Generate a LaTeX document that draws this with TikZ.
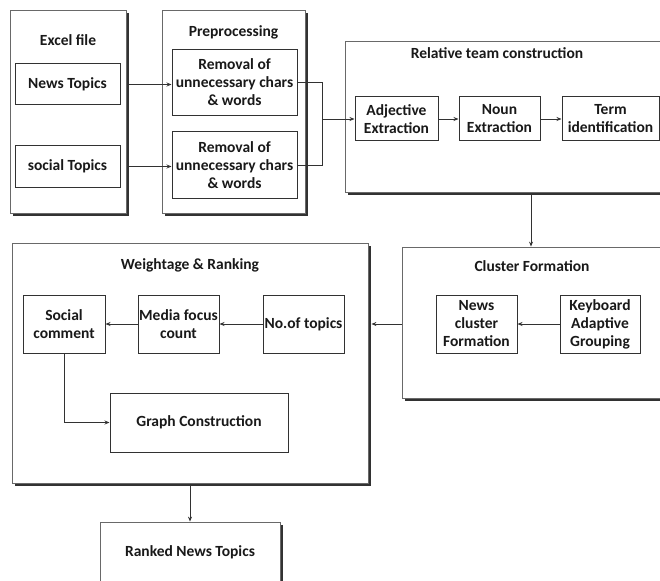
\documentclass[tikz,border=0pt]{standalone}
\usepackage{fontspec}
\setmainfont{Carlito}
\usepackage{xcolor}
\usepackage{tikz}
\usetikzlibrary{arrows.meta,positioning,shadows}
\definecolor{dfdark}{RGB}{50,50,50}
\definecolor{dfedge}{RGB}{105,105,105}
\tikzset{
  groupbox/.style={rectangle, draw=dfedge, line width=0.8pt, fill=white, drop shadow={shadow xshift=2.8pt, shadow yshift=-2.8pt, fill=dfdark, opacity=1}},
  block/.style={rectangle, draw=dfdark, line width=1pt, fill=white, align=center, inner sep=1pt, text=black!90, font=\fontsize{15.5}{18}\selectfont\bfseries},
  title/.style={text=black!90, font=\fontsize{15.5}{18}\selectfont\bfseries},
  arrow/.style={-{Stealth[length=5pt,width=4pt]}, line width=0.9pt, draw=dfdark},
  line/.style={line width=0.9pt, draw=dfdark}
}
\begin{document}
\begin{tikzpicture}[x=1pt, y=-1pt]
\path[use as bounding box, clip] (0,0) rectangle (660,580);
\node[groupbox, minimum width=116pt, minimum height=203pt] (excel) at (68,111.5) {};
\node[groupbox, minimum width=143pt, minimum height=203pt] (prep) at (233.5,111.5) {};
\node[groupbox, minimum width=372pt, minimum height=151pt] (relteam) at (531,116.5) {};
\node[groupbox, minimum width=300pt, minimum height=151pt] (cluster) at (552,322.5) {};
\node[groupbox, minimum width=356pt, minimum height=240pt] (weight) at (190,363) {};
\node[groupbox, minimum width=180pt, minimum height=60pt] (ranked) at (190,552) {};
\node[title] (exceltitle) at (68,40) {Excel file};
\node[title] (preptitle) at (233.5,32) {Preprocessing};
\node[title] (reltitle) at (497,53) {Relative team construction};
\node[title] (clustertitle) at (532,266) {Cluster Formation};
\node[title] (weighttitle) at (190,265) {Weightage \& Ranking};
\node[title] (rankedtitle) at (ranked) {Ranked News Topics};
\node[block, minimum width=105pt, minimum height=41pt] (news) at (67.5,84.5) {News Topics};
\node[block, minimum width=105pt, minimum height=41pt] (social) at (67.5,166.5) {social Topics};
\node[block, minimum width=125pt, minimum height=66pt] (rem1) at (234.5,82.5) {Removal of\\unnecessary chars\\\& words};
\node[block, minimum width=125pt, minimum height=66pt] (rem2) at (234.5,165) {Removal of\\unnecessary chars\\\& words};
\node[block, minimum width=83pt, minimum height=44pt] (adj) at (396.5,119) {Adjective\\Extraction};
\node[block, minimum width=81pt, minimum height=44pt, right=20pt of adj] (noun) {Noun\\Extraction};
\node[block, minimum width=97pt, minimum height=44pt, right=21pt of noun] (term) {Term\\identification};
\node[block, minimum width=80pt, minimum height=58pt] (keyb) at (600,324) {Keyboard\\Adaptive\\Grouping};
\node[block, minimum width=81pt, minimum height=58pt, left=42pt of keyb] (newsclus) {News\\cluster\\Formation};
\node[block, minimum width=81pt, minimum height=58pt] (numtop) at (303.5,324) {No.of topics};
\node[block, minimum width=81pt, minimum height=58pt, left=43pt of numtop] (media) {Media focus\\count};
\node[block, minimum width=82pt, minimum height=58pt, left=32pt of media] (socialc) {Social\\comment};
\node[block, minimum width=178pt, minimum height=59pt] (graph) at (199,422.5) {Graph Construction};
\coordinate (join) at (322,119);
\draw[arrow] (news -| excel.east) ++(2,0) -- (rem1.west |- news);
\draw[arrow] (social -| excel.east) ++(2,0) -- (rem2.west |- social);
\draw[line] (rem1.east) -| (join);
\draw[line] (rem2.east) -| (join);
\draw[arrow] (join) -- (adj.west);
\draw[arrow] (adj) -- (noun);
\draw[arrow] (noun) -- (term);
\draw[arrow, shorten <=2pt] (relteam.south) -- (relteam.south |- cluster.north);
\draw[arrow] (keyb) -- (newsclus);
\draw[arrow, shorten >=3pt] (cluster.west |- newsclus) -- (weight.east |- newsclus);
\draw[arrow] (numtop) -- (media);
\draw[arrow] (media) -- (socialc);
\draw[arrow] (socialc.south) |- (graph.west);
\draw[arrow, shorten <=3pt] (weight.south) -- (ranked.north);
\end{tikzpicture}
\end{document}
